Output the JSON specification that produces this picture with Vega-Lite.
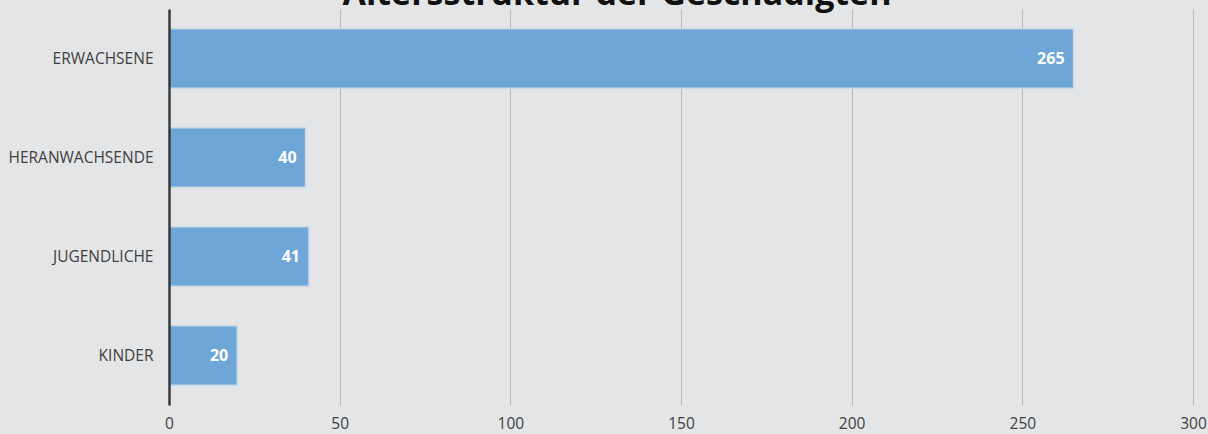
{
  "$schema": "https://vega.github.io/schema/vega-lite/v6.json",
  "width": 1024,
  "height": 396,
  "autosize": {"type": "none"},
  "padding": {"left": 169, "top": 9, "right": 15, "bottom": 29},
  "background": "#e4e5e7",
  "title": {
    "text": "Altersstruktur der Geschädigten",
    "font": "Open Sans",
    "fontWeight": "bold",
    "fontSize": 34,
    "color": "#111111",
    "anchor": "middle",
    "frame": "group",
    "baseline": "alphabetic",
    "offset": -30,
    "dx": -64
  },
  "config": {
    "view": {"stroke": null},
    "font": "Open Sans"
  },
  "data": {
    "values": [
      {"gruppe": "ERWACHSENE", "anzahl": 265},
      {"gruppe": "HERANWACHSENDE", "anzahl": 40},
      {"gruppe": "JUGENDLICHE", "anzahl": 41},
      {"gruppe": "KINDER", "anzahl": 20}
    ]
  },
  "encoding": {
    "y": {
      "field": "gruppe",
      "type": "nominal",
      "sort": null,
      "scale": {"paddingInner": 0.4, "paddingOuter": 0.2},
      "axis": {
        "title": null,
        "domain": true,
        "domainColor": "#3a3a3a",
        "domainWidth": 2.5,
        "zindex": 2,
        "ticks": false,
        "labelPadding": 16,
        "labelFontSize": 15.5,
        "labelColor": "#404040",
        "labelFont": "Open Sans"
      }
    },
    "x": {
      "field": "anzahl",
      "type": "quantitative",
      "scale": {"domain": [0, 300], "nice": false},
      "axis": {
        "title": null,
        "values": [0, 50, 100, 150, 200, 250, 300],
        "domain": false,
        "ticks": false,
        "grid": true,
        "gridColor": "#b8b8b8",
        "gridWidth": 1,
        "labelPadding": 11,
        "labelFontSize": 15.5,
        "labelColor": "#404040",
        "labelFont": "Open Sans",
        "labelFlush": false
      }
    }
  },
  "layer": [
    {
      "mark": {"type": "bar", "color": "#6ea6d7", "stroke": "#c9d9e8", "strokeWidth": 1.5}
    },
    {
      "mark": {
        "type": "text",
        "align": "right",
        "baseline": "middle",
        "dx": -9,
        "color": "white",
        "fontWeight": "bold",
        "fontSize": 16,
        "font": "Open Sans"
      },
      "encoding": {"text": {"field": "anzahl", "type": "quantitative"}}
    }
  ]
}
